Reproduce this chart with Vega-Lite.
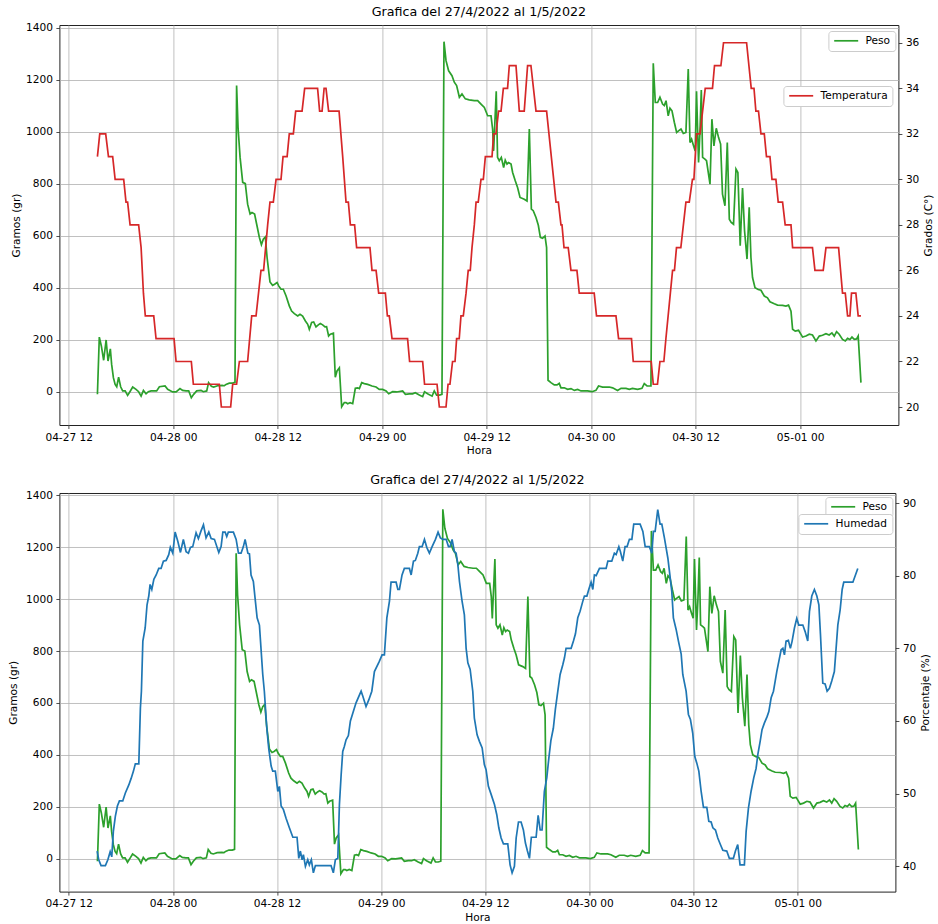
{
"$schema":"https://vega.github.io/schema/vega-lite/v6.json",
"background":"white",
"padding":{"left":7.4,"top":5,"right":0,"bottom":0},
"autosize":{"type":"pad"},
"spacing":16,
"datasets":{
"temp":[
{"t":"2022-04-27T15:18","v":31},{"t":"2022-04-27T15:34","v":32},{"t":"2022-04-27T16:15","v":32},{"t":"2022-04-27T16:34","v":31},{"t":"2022-04-27T17:03","v":31},{"t":"2022-04-27T17:20","v":30},{"t":"2022-04-27T18:19","v":30},{"t":"2022-04-27T18:35","v":29},{"t":"2022-04-27T18:46","v":29},{"t":"2022-04-27T19:03","v":28},{"t":"2022-04-27T20:02","v":28},{"t":"2022-04-27T20:19","v":27},{"t":"2022-04-27T20:35","v":25},{"t":"2022-04-27T20:48","v":24},{"t":"2022-04-27T21:46","v":24},{"t":"2022-04-27T22:02","v":23},
{"t":"2022-04-28T00:06","v":23},{"t":"2022-04-28T00:20","v":22},{"t":"2022-04-28T02:05","v":22},{"t":"2022-04-28T02:19","v":21},{"t":"2022-04-28T05:18","v":21},{"t":"2022-04-28T05:32","v":20},{"t":"2022-04-28T06:36","v":20},{"t":"2022-04-28T06:50","v":21},{"t":"2022-04-28T07:17","v":21},{"t":"2022-04-28T07:36","v":22},{"t":"2022-04-28T08:33","v":22},{"t":"2022-04-28T09:01","v":24},{"t":"2022-04-28T09:31","v":24},{"t":"2022-04-28T10:05","v":26},{"t":"2022-04-28T10:23","v":26},{"t":"2022-04-28T10:37","v":27},{"t":"2022-04-28T10:51","v":28},{"t":"2022-04-28T11:07","v":29},{"t":"2022-04-28T11:30","v":29},{"t":"2022-04-28T11:49","v":30},{"t":"2022-04-28T12:23","v":30},{"t":"2022-04-28T12:37","v":31},{"t":"2022-04-28T13:05","v":31},{"t":"2022-04-28T13:20","v":32},{"t":"2022-04-28T13:48","v":32},{"t":"2022-04-28T14:04","v":33},{"t":"2022-04-28T14:48","v":33},{"t":"2022-04-28T15:06","v":34},{"t":"2022-04-28T16:35","v":34},{"t":"2022-04-28T16:49","v":33},{"t":"2022-04-28T17:06","v":33},{"t":"2022-04-28T17:20","v":34},{"t":"2022-04-28T17:33","v":34},{"t":"2022-04-28T17:51","v":33},{"t":"2022-04-28T19:03","v":33},{"t":"2022-04-28T19:28","v":31},{"t":"2022-04-28T19:51","v":29},{"t":"2022-04-28T20:07","v":29},{"t":"2022-04-28T20:21","v":28},{"t":"2022-04-28T20:50","v":28},{"t":"2022-04-28T21:04","v":27},{"t":"2022-04-28T22:36","v":27},{"t":"2022-04-28T22:50","v":26},{"t":"2022-04-28T23:18","v":26},{"t":"2022-04-28T23:36","v":25},
{"t":"2022-04-29T00:22","v":25},{"t":"2022-04-29T00:36","v":24},{"t":"2022-04-29T00:49","v":24},{"t":"2022-04-29T01:08","v":23},{"t":"2022-04-29T02:55","v":23},{"t":"2022-04-29T03:09","v":22},{"t":"2022-04-29T04:39","v":22},{"t":"2022-04-29T04:52","v":21},{"t":"2022-04-29T06:18","v":21},{"t":"2022-04-29T06:34","v":20},{"t":"2022-04-29T07:20","v":20},{"t":"2022-04-29T07:34","v":21},{"t":"2022-04-29T07:47","v":21},{"t":"2022-04-29T08:05","v":22},{"t":"2022-04-29T08:22","v":22},{"t":"2022-04-29T08:33","v":23},{"t":"2022-04-29T08:51","v":23},{"t":"2022-04-29T09:03","v":24},{"t":"2022-04-29T09:19","v":24},{"t":"2022-04-29T09:38","v":25},{"t":"2022-04-29T09:53","v":26},{"t":"2022-04-29T10:07","v":26},{"t":"2022-04-29T10:19","v":27},{"t":"2022-04-29T10:35","v":28},{"t":"2022-04-29T10:47","v":29},{"t":"2022-04-29T11:02","v":29},{"t":"2022-04-29T11:21","v":30},{"t":"2022-04-29T11:37","v":30},{"t":"2022-04-29T11:51","v":31},{"t":"2022-04-29T12:37","v":31},{"t":"2022-04-29T12:48","v":32},{"t":"2022-04-29T13:04","v":32},{"t":"2022-04-29T13:22","v":33},{"t":"2022-04-29T13:39","v":33},{"t":"2022-04-29T13:55","v":34},{"t":"2022-04-29T14:24","v":34},{"t":"2022-04-29T14:36","v":35},{"t":"2022-04-29T15:22","v":35},{"t":"2022-04-29T15:45","v":33},{"t":"2022-04-29T16:19","v":33},{"t":"2022-04-29T16:42","v":35},{"t":"2022-04-29T17:05","v":35},{"t":"2022-04-29T17:40","v":33},{"t":"2022-04-29T18:53","v":33},{"t":"2022-04-29T19:58","v":29},{"t":"2022-04-29T20:14","v":29},{"t":"2022-04-29T20:32","v":28},{"t":"2022-04-29T20:39","v":28},{"t":"2022-04-29T20:53","v":27},{"t":"2022-04-29T21:22","v":27},{"t":"2022-04-29T21:41","v":26},{"t":"2022-04-29T22:22","v":26},{"t":"2022-04-29T22:38","v":25},
{"t":"2022-04-30T00:21","v":25},{"t":"2022-04-30T00:37","v":24},{"t":"2022-04-30T02:51","v":24},{"t":"2022-04-30T03:09","v":23},{"t":"2022-04-30T04:38","v":23},{"t":"2022-04-30T04:50","v":22},{"t":"2022-04-30T06:54","v":22},{"t":"2022-04-30T07:08","v":21},{"t":"2022-04-30T07:37","v":21},{"t":"2022-04-30T07:54","v":22},{"t":"2022-04-30T08:21","v":22},{"t":"2022-04-30T08:35","v":23},{"t":"2022-04-30T08:58","v":24.5},{"t":"2022-04-30T09:21","v":26},{"t":"2022-04-30T09:34","v":26},{"t":"2022-04-30T09:48","v":27},{"t":"2022-04-30T10:18","v":27},{"t":"2022-04-30T10:53","v":29},{"t":"2022-04-30T11:16","v":29},{"t":"2022-04-30T11:38","v":30},{"t":"2022-04-30T11:48","v":30},{"t":"2022-04-30T12:06","v":32},{"t":"2022-04-30T12:30","v":32},{"t":"2022-04-30T13:06","v":34},{"t":"2022-04-30T13:56","v":34},{"t":"2022-04-30T14:10","v":35},{"t":"2022-04-30T14:54","v":35},{"t":"2022-04-30T15:12","v":36},{"t":"2022-04-30T17:51","v":36},{"t":"2022-04-30T18:23","v":34},{"t":"2022-04-30T18:42","v":34},{"t":"2022-04-30T18:55","v":33},{"t":"2022-04-30T19:13","v":33},{"t":"2022-04-30T19:30","v":32},{"t":"2022-04-30T19:53","v":32},{"t":"2022-04-30T20:08","v":31},{"t":"2022-04-30T20:32","v":31},{"t":"2022-04-30T20:46","v":30},{"t":"2022-04-30T21:13","v":30},{"t":"2022-04-30T21:29","v":29},{"t":"2022-04-30T21:59","v":29},{"t":"2022-04-30T22:17","v":28},{"t":"2022-04-30T22:57","v":28},{"t":"2022-04-30T23:08","v":27},
{"t":"2022-05-01T01:25","v":27},{"t":"2022-05-01T01:42","v":26},{"t":"2022-05-01T02:39","v":26},{"t":"2022-05-01T02:58","v":27},{"t":"2022-05-01T04:25","v":27},{"t":"2022-05-01T04:52","v":25},{"t":"2022-05-01T05:11","v":25},{"t":"2022-05-01T05:27","v":24},{"t":"2022-05-01T05:43","v":24},{"t":"2022-05-01T05:54","v":25},{"t":"2022-05-01T06:24","v":25},{"t":"2022-05-01T06:40","v":24},{"t":"2022-05-01T06:59","v":24}
],
"peso":[
{"t":"2022-04-27T15:18","v":-10},{"t":"2022-04-27T15:31","v":210},{"t":"2022-04-27T15:45","v":176},{"t":"2022-04-27T16:01","v":121},{"t":"2022-04-27T16:18","v":199},{"t":"2022-04-27T16:31","v":118},{"t":"2022-04-27T16:47","v":165},{"t":"2022-04-27T16:56","v":105},{"t":"2022-04-27T17:08","v":54},{"t":"2022-04-27T17:20","v":28},{"t":"2022-04-27T17:31","v":19},{"t":"2022-04-27T17:44","v":56},{"t":"2022-04-27T17:58","v":19},{"t":"2022-04-27T18:12","v":3},{"t":"2022-04-27T18:29","v":3},{"t":"2022-04-27T18:46","v":-14},{"t":"2022-04-27T19:05","v":3},{"t":"2022-04-27T19:21","v":18},{"t":"2022-04-27T19:44","v":9},{"t":"2022-04-27T20:02","v":0},{"t":"2022-04-27T20:19","v":-17},{"t":"2022-04-27T20:35","v":5},{"t":"2022-04-27T20:53","v":-8},{"t":"2022-04-27T21:09","v":0},{"t":"2022-04-27T21:28","v":3},{"t":"2022-04-27T22:06","v":3},{"t":"2022-04-27T22:25","v":19},{"t":"2022-04-27T23:04","v":22},{"t":"2022-04-27T23:22","v":9},{"t":"2022-04-27T23:56","v":-1},
{"t":"2022-04-28T00:20","v":-1},{"t":"2022-04-28T00:47","v":12},{"t":"2022-04-28T01:05","v":5},{"t":"2022-04-28T01:29","v":3},{"t":"2022-04-28T01:47","v":3},{"t":"2022-04-28T02:05","v":-23},{"t":"2022-04-28T02:21","v":-10},{"t":"2022-04-28T02:42","v":3},{"t":"2022-04-28T03:12","v":5},{"t":"2022-04-28T03:28","v":0},{"t":"2022-04-28T03:51","v":3},{"t":"2022-04-28T04:04","v":35},{"t":"2022-04-28T04:23","v":21},{"t":"2022-04-28T04:39","v":18},{"t":"2022-04-28T05:06","v":23},{"t":"2022-04-28T05:37","v":24},{"t":"2022-04-28T05:53","v":23},{"t":"2022-04-28T06:04","v":28},{"t":"2022-04-28T06:27","v":33},{"t":"2022-04-28T06:50","v":33},{"t":"2022-04-28T07:06","v":36},{"t":"2022-04-28T07:17","v":1177},{"t":"2022-04-28T07:27","v":1016},{"t":"2022-04-28T07:41","v":901},{"t":"2022-04-28T07:59","v":805},{"t":"2022-04-28T08:17","v":800},{"t":"2022-04-28T08:33","v":721},{"t":"2022-04-28T08:50","v":683},{"t":"2022-04-28T09:03","v":689},{"t":"2022-04-28T09:21","v":683},{"t":"2022-04-28T09:35","v":645},{"t":"2022-04-28T09:54","v":593},{"t":"2022-04-28T10:08","v":565},{"t":"2022-04-28T10:21","v":586},{"t":"2022-04-28T10:35","v":595},{"t":"2022-04-28T10:47","v":516},{"t":"2022-04-28T11:07","v":422},{"t":"2022-04-28T11:25","v":409},{"t":"2022-04-28T11:39","v":413},{"t":"2022-04-28T11:56","v":420},{"t":"2022-04-28T12:07","v":407},{"t":"2022-04-28T12:23","v":394},{"t":"2022-04-28T12:39","v":394},{"t":"2022-04-28T12:58","v":368},{"t":"2022-04-28T13:20","v":330},{"t":"2022-04-28T13:36","v":310},{"t":"2022-04-28T13:55","v":300},{"t":"2022-04-28T14:18","v":291},{"t":"2022-04-28T14:34","v":298},{"t":"2022-04-28T14:52","v":291},{"t":"2022-04-28T15:11","v":272},{"t":"2022-04-28T15:27","v":259},{"t":"2022-04-28T15:38","v":240},{"t":"2022-04-28T15:54","v":266},{"t":"2022-04-28T16:08","v":268},{"t":"2022-04-28T16:24","v":249},{"t":"2022-04-28T16:40","v":257},{"t":"2022-04-28T16:54","v":262},{"t":"2022-04-28T17:10","v":257},{"t":"2022-04-28T17:26","v":249},{"t":"2022-04-28T17:37","v":250},{"t":"2022-04-28T17:51","v":214},{"t":"2022-04-28T18:03","v":221},{"t":"2022-04-28T18:24","v":225},{"t":"2022-04-28T18:37","v":56},{"t":"2022-04-28T18:49","v":80},{"t":"2022-04-28T19:05","v":92},{"t":"2022-04-28T19:21","v":-58},{"t":"2022-04-28T19:39","v":-42},{"t":"2022-04-28T19:51","v":-42},{"t":"2022-04-28T20:02","v":-46},{"t":"2022-04-28T20:19","v":-42},{"t":"2022-04-28T20:37","v":-46},{"t":"2022-04-28T20:55","v":13},{"t":"2022-04-28T21:11","v":15},{"t":"2022-04-28T21:23","v":12},{"t":"2022-04-28T21:39","v":35},{"t":"2022-04-28T21:57","v":31},{"t":"2022-04-28T22:20","v":28},{"t":"2022-04-28T22:50","v":22},{"t":"2022-04-28T23:18","v":18},{"t":"2022-04-28T23:40","v":9},
{"t":"2022-04-29T00:03","v":9},{"t":"2022-04-29T00:27","v":3},{"t":"2022-04-29T00:45","v":-8},{"t":"2022-04-29T01:12","v":0},{"t":"2022-04-29T01:40","v":-1},{"t":"2022-04-29T02:21","v":3},{"t":"2022-04-29T02:40","v":-10},{"t":"2022-04-29T03:07","v":-8},{"t":"2022-04-29T03:30","v":-8},{"t":"2022-04-29T03:48","v":-4},{"t":"2022-04-29T04:16","v":-13},{"t":"2022-04-29T04:39","v":-19},{"t":"2022-04-29T04:52","v":0},{"t":"2022-04-29T05:13","v":-8},{"t":"2022-04-29T05:44","v":-17},{"t":"2022-04-29T05:59","v":3},{"t":"2022-04-29T06:15","v":-13},{"t":"2022-04-29T06:34","v":-13},{"t":"2022-04-29T06:52","v":-10},{"t":"2022-04-29T07:06","v":1346},{"t":"2022-04-29T07:20","v":1273},{"t":"2022-04-29T07:38","v":1234},{"t":"2022-04-29T08:01","v":1215},{"t":"2022-04-29T08:17","v":1190},{"t":"2022-04-29T08:33","v":1177},{"t":"2022-04-29T08:52","v":1132},{"t":"2022-04-29T09:10","v":1145},{"t":"2022-04-29T09:33","v":1126},{"t":"2022-04-29T10:00","v":1122},{"t":"2022-04-29T10:35","v":1119},{"t":"2022-04-29T10:58","v":1119},{"t":"2022-04-29T11:21","v":1106},{"t":"2022-04-29T11:44","v":1093},{"t":"2022-04-29T12:07","v":1061},{"t":"2022-04-29T12:30","v":1061},{"t":"2022-04-29T12:41","v":1010},{"t":"2022-04-29T12:48","v":926},{"t":"2022-04-29T13:06","v":1155},{"t":"2022-04-29T13:15","v":901},{"t":"2022-04-29T13:27","v":888},{"t":"2022-04-29T13:41","v":901},{"t":"2022-04-29T13:57","v":862},{"t":"2022-04-29T14:08","v":890},{"t":"2022-04-29T14:20","v":875},{"t":"2022-04-29T14:31","v":881},{"t":"2022-04-29T14:48","v":875},{"t":"2022-04-29T14:59","v":843},{"t":"2022-04-29T15:17","v":811},{"t":"2022-04-29T15:33","v":785},{"t":"2022-04-29T15:50","v":747},{"t":"2022-04-29T16:19","v":740},{"t":"2022-04-29T16:38","v":733},{"t":"2022-04-29T16:54","v":1010},{"t":"2022-04-29T17:08","v":702},{"t":"2022-04-29T17:21","v":696},{"t":"2022-04-29T17:40","v":670},{"t":"2022-04-29T17:56","v":640},{"t":"2022-04-29T18:10","v":593},{"t":"2022-04-29T18:25","v":590},{"t":"2022-04-29T18:42","v":599},{"t":"2022-04-29T18:53","v":554},{"t":"2022-04-29T19:03","v":44},{"t":"2022-04-29T19:23","v":35},{"t":"2022-04-29T19:46","v":26},{"t":"2022-04-29T20:05","v":26},{"t":"2022-04-29T20:20","v":32},{"t":"2022-04-29T20:32","v":15},{"t":"2022-04-29T20:55","v":15},{"t":"2022-04-29T21:18","v":9},{"t":"2022-04-29T21:41","v":12},{"t":"2022-04-29T22:04","v":5},{"t":"2022-04-29T22:27","v":9},{"t":"2022-04-29T22:50","v":3},{"t":"2022-04-29T23:13","v":3},{"t":"2022-04-29T23:35","v":3},
{"t":"2022-04-30T00:06","v":0},{"t":"2022-04-30T00:33","v":5},{"t":"2022-04-30T00:51","v":22},{"t":"2022-04-30T01:19","v":18},{"t":"2022-04-30T02:05","v":18},{"t":"2022-04-30T02:28","v":15},{"t":"2022-04-30T03:02","v":5},{"t":"2022-04-30T03:26","v":13},{"t":"2022-04-30T04:00","v":13},{"t":"2022-04-30T04:23","v":9},{"t":"2022-04-30T04:45","v":13},{"t":"2022-04-30T05:20","v":9},{"t":"2022-04-30T05:50","v":13},{"t":"2022-04-30T06:06","v":31},{"t":"2022-04-30T06:25","v":22},{"t":"2022-04-30T06:52","v":22},{"t":"2022-04-30T07:08","v":1263},{"t":"2022-04-30T07:22","v":1112},{"t":"2022-04-30T07:38","v":1112},{"t":"2022-04-30T07:54","v":1132},{"t":"2022-04-30T08:12","v":1106},{"t":"2022-04-30T08:24","v":1100},{"t":"2022-04-30T08:36","v":1119},{"t":"2022-04-30T08:51","v":1061},{"t":"2022-04-30T09:03","v":1090},{"t":"2022-04-30T09:17","v":1080},{"t":"2022-04-30T09:33","v":1036},{"t":"2022-04-30T09:49","v":997},{"t":"2022-04-30T10:02","v":1003},{"t":"2022-04-30T10:19","v":1010},{"t":"2022-04-30T10:35","v":993},{"t":"2022-04-30T10:53","v":997},{"t":"2022-04-30T11:09","v":1241},{"t":"2022-04-30T11:21","v":958},{"t":"2022-04-30T11:32","v":971},{"t":"2022-04-30T11:46","v":945},{"t":"2022-04-30T11:57","v":926},{"t":"2022-04-30T12:06","v":1155},{"t":"2022-04-30T12:20","v":881},{"t":"2022-04-30T12:30","v":1003},{"t":"2022-04-30T12:39","v":1160},{"t":"2022-04-30T12:48","v":901},{"t":"2022-04-30T13:04","v":894},{"t":"2022-04-30T13:15","v":888},{"t":"2022-04-30T13:39","v":798},{"t":"2022-04-30T13:52","v":1048},{"t":"2022-04-30T14:06","v":945},{"t":"2022-04-30T14:22","v":1013},{"t":"2022-04-30T14:38","v":977},{"t":"2022-04-30T14:52","v":952},{"t":"2022-04-30T15:05","v":760},{"t":"2022-04-30T15:22","v":715},{"t":"2022-04-30T15:38","v":958},{"t":"2022-04-30T15:52","v":663},{"t":"2022-04-30T16:05","v":651},{"t":"2022-04-30T16:21","v":644},{"t":"2022-04-30T16:38","v":856},{"t":"2022-04-30T16:51","v":843},{"t":"2022-04-30T17:07","v":561},{"t":"2022-04-30T17:23","v":783},{"t":"2022-04-30T17:37","v":619},{"t":"2022-04-30T17:54","v":510},{"t":"2022-04-30T18:09","v":709},{"t":"2022-04-30T18:21","v":516},{"t":"2022-04-30T18:32","v":439},{"t":"2022-04-30T18:49","v":400},{"t":"2022-04-30T19:11","v":393},{"t":"2022-04-30T19:30","v":390},{"t":"2022-04-30T19:53","v":368},{"t":"2022-04-30T20:15","v":361},{"t":"2022-04-30T20:32","v":346},{"t":"2022-04-30T21:02","v":338},{"t":"2022-04-30T21:24","v":333},{"t":"2022-04-30T21:59","v":332},{"t":"2022-04-30T22:22","v":329},{"t":"2022-04-30T22:40","v":333},{"t":"2022-04-30T22:57","v":310},{"t":"2022-04-30T23:08","v":240},{"t":"2022-04-30T23:26","v":233},{"t":"2022-04-30T23:49","v":236},
{"t":"2022-05-01T00:17","v":210},{"t":"2022-05-01T00:40","v":214},{"t":"2022-05-01T01:03","v":221},{"t":"2022-05-01T01:25","v":218},{"t":"2022-05-01T01:49","v":195},{"t":"2022-05-01T02:12","v":214},{"t":"2022-05-01T02:34","v":217},{"t":"2022-05-01T02:58","v":223},{"t":"2022-05-01T03:20","v":218},{"t":"2022-05-01T03:39","v":226},{"t":"2022-05-01T03:55","v":214},{"t":"2022-05-01T04:11","v":231},{"t":"2022-05-01T04:29","v":221},{"t":"2022-05-01T04:52","v":201},{"t":"2022-05-01T05:11","v":195},{"t":"2022-05-01T05:27","v":205},{"t":"2022-05-01T05:43","v":201},{"t":"2022-05-01T05:57","v":210},{"t":"2022-05-01T06:13","v":201},{"t":"2022-05-01T06:29","v":203},{"t":"2022-05-01T06:40","v":214},{"t":"2022-05-01T06:59","v":35}
],
"hum":[
{"t":"2022-04-27T15:16","v":42.1},{"t":"2022-04-27T15:27","v":40.9},{"t":"2022-04-27T15:43","v":40.1},{"t":"2022-04-27T16:13","v":40.1},{"t":"2022-04-27T16:30","v":40.9},{"t":"2022-04-27T16:46","v":42.0},{"t":"2022-04-27T16:57","v":41.3},{"t":"2022-04-27T17:08","v":44.8},{"t":"2022-04-27T17:22","v":46.9},{"t":"2022-04-27T17:36","v":48.3},{"t":"2022-04-27T17:50","v":49.0},{"t":"2022-04-27T18:13","v":49.0},{"t":"2022-04-27T18:31","v":50.1},{"t":"2022-04-27T18:55","v":51.2},{"t":"2022-04-27T19:11","v":52.1},{"t":"2022-04-27T19:27","v":53.1},{"t":"2022-04-27T19:40","v":54.1},{"t":"2022-04-27T20:04","v":54.1},{"t":"2022-04-27T20:15","v":61.8},{"t":"2022-04-27T20:22","v":64.1},{"t":"2022-04-27T20:32","v":71.0},{"t":"2022-04-27T20:48","v":72.8},{"t":"2022-04-27T21:01","v":76.0},{"t":"2022-04-27T21:13","v":77.2},{"t":"2022-04-27T21:22","v":78.8},{"t":"2022-04-27T21:34","v":78.1},{"t":"2022-04-27T21:48","v":79.5},{"t":"2022-04-27T22:04","v":80.1},{"t":"2022-04-27T22:22","v":81.0},{"t":"2022-04-27T22:38","v":81.0},{"t":"2022-04-27T22:54","v":82.0},{"t":"2022-04-27T23:13","v":82.1},{"t":"2022-04-27T23:31","v":82.9},{"t":"2022-04-27T23:42","v":83.9},{"t":"2022-04-27T23:59","v":83.1},
{"t":"2022-04-28T00:15","v":86.0},{"t":"2022-04-28T00:34","v":84.7},{"t":"2022-04-28T00:52","v":83.2},{"t":"2022-04-28T01:12","v":85.0},{"t":"2022-04-28T01:31","v":83.3},{"t":"2022-04-28T01:47","v":83.1},{"t":"2022-04-28T02:01","v":83.9},{"t":"2022-04-28T02:17","v":84.0},{"t":"2022-04-28T02:40","v":85.9},{"t":"2022-04-28T02:56","v":85.1},{"t":"2022-04-28T03:13","v":86.1},{"t":"2022-04-28T03:31","v":87.0},{"t":"2022-04-28T03:49","v":85.2},{"t":"2022-04-28T04:08","v":86.0},{"t":"2022-04-28T04:24","v":85.1},{"t":"2022-04-28T04:47","v":85.0},{"t":"2022-04-28T05:17","v":83.2},{"t":"2022-04-28T05:33","v":84.0},{"t":"2022-04-28T05:45","v":86.0},{"t":"2022-04-28T06:01","v":86.0},{"t":"2022-04-28T06:12","v":85.4},{"t":"2022-04-28T06:23","v":86.0},{"t":"2022-04-28T06:58","v":86.0},{"t":"2022-04-28T07:17","v":85.0},{"t":"2022-04-28T07:33","v":83.1},{"t":"2022-04-28T07:51","v":83.1},{"t":"2022-04-28T08:07","v":84.0},{"t":"2022-04-28T08:19","v":85.0},{"t":"2022-04-28T08:38","v":83.1},{"t":"2022-04-28T08:49","v":83.0},{"t":"2022-04-28T09:00","v":80.1},{"t":"2022-04-28T09:16","v":79.2},{"t":"2022-04-28T09:30","v":76.5},{"t":"2022-04-28T09:42","v":74.2},{"t":"2022-04-28T09:58","v":73.2},{"t":"2022-04-28T10:21","v":66.4},{"t":"2022-04-28T10:32","v":64.1},{"t":"2022-04-28T10:49","v":59.0},{"t":"2022-04-28T11:03","v":56.1},{"t":"2022-04-28T11:19","v":53.8},{"t":"2022-04-28T11:30","v":53.1},{"t":"2022-04-28T11:48","v":53.1},{"t":"2022-04-28T12:05","v":50.3},{"t":"2022-04-28T12:16","v":51.0},{"t":"2022-04-28T12:28","v":48.3},{"t":"2022-04-28T12:44","v":47.8},{"t":"2022-04-28T13:02","v":46.6},{"t":"2022-04-28T13:25","v":45.3},{"t":"2022-04-28T13:49","v":44.0},{"t":"2022-04-28T14:18","v":44.0},{"t":"2022-04-28T14:30","v":41.1},{"t":"2022-04-28T14:41","v":42.1},{"t":"2022-04-28T14:53","v":40.9},{"t":"2022-04-28T15:02","v":41.6},{"t":"2022-04-28T15:16","v":40.0},{"t":"2022-04-28T15:32","v":40.9},{"t":"2022-04-28T15:43","v":40.2},{"t":"2022-04-28T15:57","v":40.9},{"t":"2022-04-28T16:11","v":39.1},{"t":"2022-04-28T16:25","v":40.1},{"t":"2022-04-28T18:13","v":40.1},{"t":"2022-04-28T18:29","v":39.1},{"t":"2022-04-28T18:43","v":40.9},{"t":"2022-04-28T19:00","v":41.1},{"t":"2022-04-28T19:11","v":48.5},{"t":"2022-04-28T19:23","v":52.6},{"t":"2022-04-28T19:34","v":55.8},{"t":"2022-04-28T19:45","v":56.5},{"t":"2022-04-28T19:57","v":57.4},{"t":"2022-04-28T20:13","v":58.0},{"t":"2022-04-28T20:27","v":60.0},{"t":"2022-04-28T20:44","v":61.1},{"t":"2022-04-28T21:06","v":62.5},{"t":"2022-04-28T21:41","v":64.1},{"t":"2022-04-28T21:53","v":63.4},{"t":"2022-04-28T22:15","v":62.0},{"t":"2022-04-28T22:34","v":62.9},{"t":"2022-04-28T22:55","v":64.1},{"t":"2022-04-28T23:13","v":66.8},{"t":"2022-04-28T23:47","v":68.2},
{"t":"2022-04-29T00:06","v":69.1},{"t":"2022-04-29T00:22","v":69.1},{"t":"2022-04-29T00:39","v":74.2},{"t":"2022-04-29T00:57","v":76.5},{"t":"2022-04-29T01:08","v":79.1},{"t":"2022-04-29T01:43","v":79.1},{"t":"2022-04-29T01:55","v":78.1},{"t":"2022-04-29T02:06","v":78.1},{"t":"2022-04-29T02:24","v":80.1},{"t":"2022-04-29T02:40","v":81.0},{"t":"2022-04-29T03:15","v":81.0},{"t":"2022-04-29T03:27","v":80.1},{"t":"2022-04-29T03:43","v":82.0},{"t":"2022-04-29T03:56","v":82.1},{"t":"2022-04-29T04:13","v":83.1},{"t":"2022-04-29T04:24","v":84.0},{"t":"2022-04-29T04:43","v":84.0},{"t":"2022-04-29T04:59","v":85.0},{"t":"2022-04-29T05:15","v":83.9},{"t":"2022-04-29T05:33","v":83.1},{"t":"2022-04-29T05:52","v":84.0},{"t":"2022-04-29T06:15","v":85.0},{"t":"2022-04-29T06:33","v":86.0},{"t":"2022-04-29T06:49","v":85.2},{"t":"2022-04-29T07:06","v":85.0},{"t":"2022-04-29T07:29","v":85.0},{"t":"2022-04-29T07:45","v":84.0},{"t":"2022-04-29T07:56","v":84.0},{"t":"2022-04-29T08:10","v":85.0},{"t":"2022-04-29T08:26","v":83.3},{"t":"2022-04-29T08:38","v":83.1},{"t":"2022-04-29T08:50","v":81.5},{"t":"2022-04-29T09:01","v":79.2},{"t":"2022-04-29T09:19","v":76.5},{"t":"2022-04-29T09:35","v":74.6},{"t":"2022-04-29T09:47","v":70.0},{"t":"2022-04-29T09:59","v":68.0},{"t":"2022-04-29T10:15","v":67.1},{"t":"2022-04-29T10:33","v":64.1},{"t":"2022-04-29T10:44","v":60.4},{"t":"2022-04-29T11:03","v":58.1},{"t":"2022-04-29T11:19","v":57.2},{"t":"2022-04-29T11:38","v":56.3},{"t":"2022-04-29T11:53","v":54.0},{"t":"2022-04-29T12:05","v":53.3},{"t":"2022-04-29T12:21","v":51.0},{"t":"2022-04-29T12:40","v":49.9},{"t":"2022-04-29T13:03","v":48.5},{"t":"2022-04-29T13:19","v":47.1},{"t":"2022-04-29T13:33","v":45.3},{"t":"2022-04-29T13:49","v":43.9},{"t":"2022-04-29T14:05","v":43.1},{"t":"2022-04-29T14:35","v":43.1},{"t":"2022-04-29T14:51","v":40.2},{"t":"2022-04-29T15:05","v":39.1},{"t":"2022-04-29T15:21","v":40.0},{"t":"2022-04-29T15:33","v":43.9},{"t":"2022-04-29T15:49","v":46.1},{"t":"2022-04-29T16:07","v":46.1},{"t":"2022-04-29T16:23","v":45.0},{"t":"2022-04-29T16:37","v":43.2},{"t":"2022-04-29T16:51","v":42.1},{"t":"2022-04-29T17:05","v":41.1},{"t":"2022-04-29T17:18","v":44.0},{"t":"2022-04-29T17:51","v":44.0},{"t":"2022-04-29T18:05","v":47.0},{"t":"2022-04-29T18:19","v":45.0},{"t":"2022-04-29T18:32","v":45.0},{"t":"2022-04-29T18:48","v":50.3},{"t":"2022-04-29T19:05","v":52.2},{"t":"2022-04-29T19:19","v":54.9},{"t":"2022-04-29T19:33","v":57.3},{"t":"2022-04-29T19:50","v":59.0},{"t":"2022-04-29T20:04","v":61.6},{"t":"2022-04-29T20:21","v":64.1},{"t":"2022-04-29T20:37","v":66.4},{"t":"2022-04-29T20:55","v":67.7},{"t":"2022-04-29T21:07","v":68.7},{"t":"2022-04-29T21:18","v":70.0},{"t":"2022-04-29T21:53","v":70.0},{"t":"2022-04-29T22:09","v":71.0},{"t":"2022-04-29T22:23","v":72.0},{"t":"2022-04-29T22:39","v":74.2},{"t":"2022-04-29T22:55","v":75.1},{"t":"2022-04-29T23:14","v":76.5},{"t":"2022-04-29T23:25","v":77.2},{"t":"2022-04-29T23:42","v":77.2},{"t":"2022-04-29T23:55","v":78.1},
{"t":"2022-04-30T00:11","v":79.1},{"t":"2022-04-30T00:23","v":78.1},{"t":"2022-04-30T00:34","v":80.1},{"t":"2022-04-30T00:46","v":80.0},{"t":"2022-04-30T01:09","v":81.0},{"t":"2022-04-30T01:55","v":81.0},{"t":"2022-04-30T02:07","v":82.0},{"t":"2022-04-30T02:34","v":82.0},{"t":"2022-04-30T02:52","v":83.1},{"t":"2022-04-30T03:04","v":82.9},{"t":"2022-04-30T03:23","v":84.0},{"t":"2022-04-30T03:34","v":83.3},{"t":"2022-04-30T03:50","v":82.0},{"t":"2022-04-30T04:06","v":84.0},{"t":"2022-04-30T04:20","v":84.0},{"t":"2022-04-30T04:36","v":85.0},{"t":"2022-04-30T04:53","v":85.0},{"t":"2022-04-30T05:06","v":87.1},{"t":"2022-04-30T05:50","v":87.1},{"t":"2022-04-30T06:09","v":86.1},{"t":"2022-04-30T06:25","v":84.0},{"t":"2022-04-30T06:54","v":84.0},{"t":"2022-04-30T07:11","v":83.1},{"t":"2022-04-30T07:22","v":86.1},{"t":"2022-04-30T07:34","v":86.1},{"t":"2022-04-30T07:52","v":89.1},{"t":"2022-04-30T08:08","v":87.1},{"t":"2022-04-30T08:20","v":87.1},{"t":"2022-04-30T08:38","v":85.2},{"t":"2022-04-30T09:02","v":82.4},{"t":"2022-04-30T09:17","v":79.9},{"t":"2022-04-30T09:29","v":77.8},{"t":"2022-04-30T09:40","v":74.2},{"t":"2022-04-30T09:59","v":72.6},{"t":"2022-04-30T10:15","v":71.0},{"t":"2022-04-30T10:34","v":69.2},{"t":"2022-04-30T10:45","v":66.4},{"t":"2022-04-30T11:08","v":64.1},{"t":"2022-04-30T11:24","v":60.9},{"t":"2022-04-30T11:38","v":60.2},{"t":"2022-04-30T11:54","v":58.3},{"t":"2022-04-30T12:08","v":55.1},{"t":"2022-04-30T12:22","v":54.2},{"t":"2022-04-30T12:36","v":53.1},{"t":"2022-04-30T12:52","v":50.3},{"t":"2022-04-30T13:08","v":48.1},{"t":"2022-04-30T13:31","v":48.1},{"t":"2022-04-30T13:45","v":46.2},{"t":"2022-04-30T14:01","v":46.1},{"t":"2022-04-30T14:13","v":45.3},{"t":"2022-04-30T14:31","v":45.0},{"t":"2022-04-30T14:47","v":43.9},{"t":"2022-04-30T15:05","v":43.0},{"t":"2022-04-30T15:22","v":42.2},{"t":"2022-04-30T15:49","v":42.1},{"t":"2022-04-30T16:07","v":41.1},{"t":"2022-04-30T16:35","v":41.1},{"t":"2022-04-30T16:49","v":42.1},{"t":"2022-04-30T17:05","v":43.0},{"t":"2022-04-30T17:21","v":40.2},{"t":"2022-04-30T17:51","v":40.2},{"t":"2022-04-30T18:03","v":44.8},{"t":"2022-04-30T18:19","v":48.0},{"t":"2022-04-30T18:37","v":50.3},{"t":"2022-04-30T18:56","v":52.2},{"t":"2022-04-30T19:12","v":53.5},{"t":"2022-04-30T19:24","v":55.4},{"t":"2022-04-30T19:40","v":57.2},{"t":"2022-04-30T19:53","v":58.8},{"t":"2022-04-30T20:09","v":59.7},{"t":"2022-04-30T20:28","v":60.6},{"t":"2022-04-30T20:40","v":61.3},{"t":"2022-04-30T20:56","v":63.2},{"t":"2022-04-30T21:12","v":64.1},{"t":"2022-04-30T21:35","v":66.8},{"t":"2022-04-30T21:49","v":68.2},{"t":"2022-04-30T22:05","v":69.8},{"t":"2022-04-30T22:17","v":70.0},{"t":"2022-04-30T22:28","v":69.1},{"t":"2022-04-30T22:39","v":71.0},{"t":"2022-04-30T22:55","v":71.1},{"t":"2022-04-30T23:09","v":70.0},{"t":"2022-04-30T23:21","v":71.0},{"t":"2022-04-30T23:37","v":72.8},{"t":"2022-04-30T23:53","v":74.1},
{"t":"2022-05-01T00:07","v":73.2},{"t":"2022-05-01T00:35","v":73.2},{"t":"2022-05-01T00:51","v":72.3},{"t":"2022-05-01T01:09","v":71.0},{"t":"2022-05-01T01:21","v":75.1},{"t":"2022-05-01T01:37","v":77.2},{"t":"2022-05-01T01:55","v":78.1},{"t":"2022-05-01T02:12","v":77.2},{"t":"2022-05-01T02:26","v":76.0},{"t":"2022-05-01T02:37","v":71.9},{"t":"2022-05-01T02:53","v":65.2},{"t":"2022-05-01T03:09","v":65.1},{"t":"2022-05-01T03:23","v":64.1},{"t":"2022-05-01T03:39","v":64.5},{"t":"2022-05-01T03:55","v":65.5},{"t":"2022-05-01T04:13","v":66.8},{"t":"2022-05-01T04:25","v":70.0},{"t":"2022-05-01T04:37","v":73.2},{"t":"2022-05-01T04:53","v":75.3},{"t":"2022-05-01T05:07","v":78.1},{"t":"2022-05-01T05:18","v":79.1},{"t":"2022-05-01T06:21","v":79.1},{"t":"2022-05-01T06:39","v":80.1},{"t":"2022-05-01T06:55","v":81.0}
]
},
"vconcat":[
{
"title":{"text":"Grafica del 27/4/2022 al 1/5/2022","frame":"group","anchor":"middle","offset":4},
"width":839,"height":400,
"encoding":{"x":{"field":"t","type":"temporal","title":"Hora",
 "scale":{"domain":[{"year":2022,"month":4,"date":27,"hours":10,"minutes":56},{"year":2022,"month":5,"date":1,"hours":11,"minutes":17}]},
 "axis":{"format":"%m-%d %H","grid":true,"labelFlush":false,"labelOverlap":false,"titlePadding":3,
 "values":[{"year":2022,"month":4,"date":27,"hours":12},{"year":2022,"month":4,"date":28,"hours":0},{"year":2022,"month":4,"date":28,"hours":12},{"year":2022,"month":4,"date":29,"hours":0},{"year":2022,"month":4,"date":29,"hours":12},{"year":2022,"month":4,"date":30,"hours":0},{"year":2022,"month":4,"date":30,"hours":12},{"year":2022,"month":5,"date":1,"hours":0}]}}},
"layer":[
 {"data":{"name":"peso"},"mark":{"type":"line","strokeWidth":1.7},
  "encoding":{"y":{"field":"v","type":"quantitative","title":"Gramos (gr)","scale":{"domain":[-128,1410],"nice":false,"zero":false},"axis":{"values":[0,200,400,600,800,1000,1200,1400],"format":"d","grid":true,"titlePadding":4}},
  "color":{"datum":"Peso","scale":{"domain":["Peso"],"range":["#2ca02c"]},"legend":{"orient":"none","legendX":769,"legendY":6,"title":null}}}},
 {"data":{"name":"temp"},"mark":{"type":"line","strokeWidth":1.7},
  "encoding":{"y":{"field":"v","type":"quantitative","title":"Grados (C°)","scale":{"domain":[19.21,36.78],"nice":false,"zero":false},"axis":{"orient":"right","values":[20,22,24,26,28,30,32,34,36],"grid":false,"titleAngle":270,"titleBaseline":"top","titlePadding":5}},
  "color":{"datum":"Temperatura","scale":{"domain":["Temperatura"],"range":["#d62728"]},"legend":{"orient":"none","legendX":724,"legendY":61,"title":null}}}}
],
"resolve":{"scale":{"y":"independent","color":"independent"}}
},
{
"title":{"text":"Grafica del 27/4/2022 al 1/5/2022","frame":"group","anchor":"middle","offset":4},
"width":836,"height":398.6,
"encoding":{"x":{"field":"t","type":"temporal","title":"Hora",
 "scale":{"domain":[{"year":2022,"month":4,"date":27,"hours":10,"minutes":55},{"year":2022,"month":5,"date":1,"hours":11,"minutes":15}]},
 "axis":{"format":"%m-%d %H","grid":true,"labelFlush":false,"labelOverlap":false,"titlePadding":3,
 "values":[{"year":2022,"month":4,"date":27,"hours":12},{"year":2022,"month":4,"date":28,"hours":0},{"year":2022,"month":4,"date":28,"hours":12},{"year":2022,"month":4,"date":29,"hours":0},{"year":2022,"month":4,"date":29,"hours":12},{"year":2022,"month":4,"date":30,"hours":0},{"year":2022,"month":4,"date":30,"hours":12},{"year":2022,"month":5,"date":1,"hours":0}]}}},
"layer":[
 {"data":{"name":"peso"},"mark":{"type":"line","strokeWidth":1.7},
  "encoding":{"y":{"field":"v","type":"quantitative","title":"Gramos (gr)","scale":{"domain":[-127,1409],"nice":false,"zero":false},"axis":{"values":[0,200,400,600,800,1000,1200,1400],"format":"d","grid":true,"titlePadding":7}},
  "color":{"datum":"Peso","scale":{"domain":["Peso"],"range":["#2ca02c"]},"legend":{"orient":"none","legendX":766,"legendY":4,"title":null}}}},
 {"data":{"name":"hum"},"mark":{"type":"line","strokeWidth":1.7},
  "encoding":{"y":{"field":"v","type":"quantitative","title":"Porcentaje (%)","scale":{"domain":[36.52,91.38],"nice":false,"zero":false},"axis":{"orient":"right","values":[40,50,60,70,80,90],"grid":false,"titleAngle":270,"titleBaseline":"top","titlePadding":5}},
  "color":{"datum":"Humedad","scale":{"domain":["Humedad"],"range":["#1f77b4"]},"legend":{"orient":"none","legendX":739,"legendY":21,"title":null}}}}
],
"resolve":{"scale":{"y":"independent","color":"independent"}}
}
],
"config":{
"font":"DejaVu Sans",
"view":{"stroke":"#222222","strokeWidth":1},
"title":{"font":"DejaVu Sans","fontSize":12.7,"fontWeight":"normal","color":"#000000"},
"axis":{"labelFont":"DejaVu Sans","labelFontSize":10.6,"labelColor":"#000000","titleFont":"DejaVu Sans","titleFontSize":10.6,"titleFontWeight":"normal","titleColor":"#000000","tickColor":"#222222","tickSize":3.5,"tickWidth":0.8,"labelPadding":3.5,"domain":false,"gridColor":"#b0b0b0","gridWidth":0.8},
"legend":{"labelFont":"DejaVu Sans","labelFontSize":10.6,"labelColor":"#000000","symbolType":"M-4,0H4","symbolSize":36,"symbolStrokeWidth":1.7,"symbolOffset":8,"labelOffset":14,"padding":4.5,"strokeColor":"#cccccc","fillColor":"#ffffff","cornerRadius":3}
}
}
